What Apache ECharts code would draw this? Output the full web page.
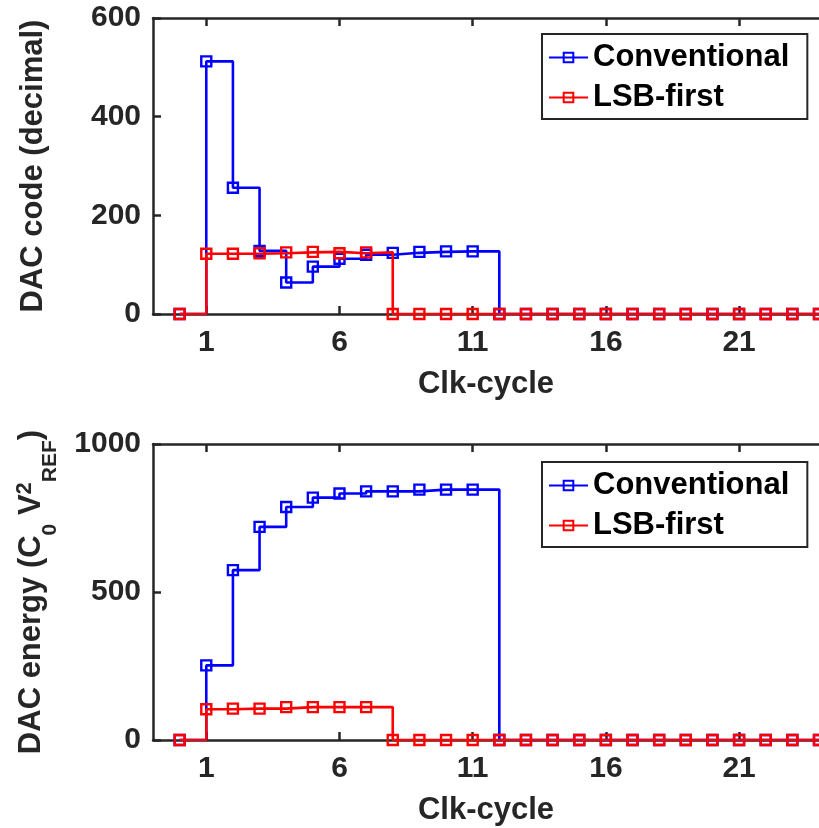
<!DOCTYPE html>
<html>
<head>
<meta charset="utf-8">
<script src="https://cdn.jsdelivr.net/npm/echarts@6.0.0/dist/echarts.min.js"></script>
<style>
  html, body { margin: 0; padding: 0; background: #fff; }
  #chart { width: 819px; height: 828px; }
</style>
</head>
<body>
<div id="chart"></div>
<script>
// cycle index of each sample
const cycles = [0, 1, 2, 3, 4, 5, 6, 7, 8, 9, 10, 11, 12, 13, 14, 15, 16, 17, 18, 19, 20, 21, 22, 23, 24];

// top plot : DAC code (decimal)
const codeConventional = [0, 512, 256, 128, 64, 96, 112, 120, 124, 126, 127, 127, 0, 0, 0, 0, 0, 0, 0, 0, 0, 0, 0, 0, 0];
const codeLsbFirst     = [0, 122, 122, 123, 125, 126, 123, 125, 0, 0, 0, 0, 0, 0, 0, 0, 0, 0, 0, 0, 0, 0, 0, 0, 0];

// bottom plot : DAC energy (C0 Vref^2)
const energyConventional = [0, 252, 574, 720, 787, 819, 833, 840, 840, 846, 846, 846, 0, 0, 0, 0, 0, 0, 0, 0, 0, 0, 0, 0, 0];
const energyLsbFirst     = [0, 104, 106, 106, 111, 111, 111, 111, 0, 0, 0, 0, 0, 0, 0, 0, 0, 0, 0, 0, 0, 0, 0, 0, 0];

const xTickValues = [1, 6, 11, 16, 21];
const seriesNames = ['Conventional', 'LSB-first'];

const FONT = '"Liberation Sans", Arial, Helvetica, sans-serif';
const AXIS_COLOR = '#262626';
const BLUE = '#0000ff';
const RED = '#ff0000';

const pairs = (xs, ys) => xs.map((x, i) => [x, ys[i]]);

// axe x du bas (avec libellés) et axe x du haut (cadre seulement)
function bottomX(gridIndex) {
    return {
        gridIndex: gridIndex, type: 'value', position: 'bottom', min: -1, max: 24,
        name: 'Clk-cycle', nameLocation: 'middle', nameGap: 53,
        nameTextStyle: { fontFamily: FONT, fontSize: 31, fontWeight: 'bold', color: AXIS_COLOR, lineHeight: 34 },
        axisLine: { onZero: false, lineStyle: { color: AXIS_COLOR, width: 2.5 } },
        axisTick: { inside: true, length: 8, customValues: xTickValues, lineStyle: { color: AXIS_COLOR, width: 2.5 } },
        axisLabel: { customValues: xTickValues, margin: 14, fontFamily: FONT, fontSize: 30, fontWeight: 'bold', color: AXIS_COLOR, lineHeight: 30 },
        splitLine: { show: false }
    };
}
function topX(gridIndex) {
    return {
        gridIndex: gridIndex, type: 'value', position: 'top', min: -1, max: 24,
        axisLine: { onZero: false, lineStyle: { color: AXIS_COLOR, width: 2.5 } },
        axisTick: { inside: true, length: 8, customValues: xTickValues, lineStyle: { color: AXIS_COLOR, width: 2.5 } },
        axisLabel: { show: false, customValues: xTickValues },
        splitLine: { show: false }
    };
}
function leftY(gridIndex, max, interval, name, nameStyle, nameGap) {
    return {
        gridIndex: gridIndex, type: 'value', min: 0, max: max, interval: interval,
        name: name, nameLocation: 'middle', nameGap: nameGap,
        nameTextStyle: nameStyle,
        axisLine: { show: true, onZero: false, lineStyle: { color: AXIS_COLOR, width: 2.5 } },
        axisTick: { show: true, inside: true, length: 8, lineStyle: { color: AXIS_COLOR, width: 2.5 } },
        axisLabel: { margin: 12, fontFamily: FONT, fontSize: 30, fontWeight: 'bold', color: AXIS_COLOR, formatter: v => String(v) },
        splitLine: { show: false }
    };
}
function stairs(name, color, xIdx, yIdx, values) {
    return {
        name: name, type: 'line', step: 'end',
        xAxisIndex: xIdx, yAxisIndex: yIdx,
        data: pairs(cycles, values),
        symbol: 'rect', symbolSize: 10, showAllSymbol: true,
        lineStyle: { color: color, width: 2.6 },
        itemStyle: { color: 'rgba(255,255,255,0)', borderColor: color, borderWidth: 2.4 },
        emphasis: { disabled: true },
        z: name === 'LSB-first' ? 3 : 2
    };
}
function legendAt(top) {
    return {
        data: seriesNames, orient: 'vertical', left: 542, top: top,
        padding: [8, 18, 6, 6], itemGap: 9, itemWidth: 39, itemHeight: 12,
        borderColor: AXIS_COLOR, borderWidth: 2, backgroundColor: '#fff',
        textStyle: { fontFamily: FONT, fontSize: 31, fontWeight: 'bold', color: '#000', lineHeight: 30 },
        selectedMode: false
    };
}

// titre de l'axe y du bas : C0 et VREF en indices, 2 en exposant
const titleFont = { fontFamily: FONT, fontWeight: 'bold', color: AXIS_COLOR };
const energyTitleStyle = Object.assign({ fontSize: 31, lineHeight: 60 }, titleFont, {
    rich: {
        m:  Object.assign({ fontSize: 31, lineHeight: 60 }, titleFont),
        lo: Object.assign({ fontSize: 21, verticalAlign: 'middle', padding: [39, 0, 0, 0] }, titleFont),
        hi: Object.assign({ fontSize: 22, verticalAlign: 'middle', padding: [0, 0, 12, 0] }, titleFont)
    }
});
const codeTitleStyle = Object.assign({ fontSize: 31, lineHeight: 44 }, titleFont);

const chart = echarts.init(document.getElementById('chart'), null, { renderer: 'canvas' });
chart.setOption({
    animation: false,
    backgroundColor: '#fff',
    grid: [
        { left: 153, top: 18, right: 0, height: 296, outerBoundsMode: 'none' },
        { left: 153, top: 444, right: 0, height: 296, outerBoundsMode: 'none' }
    ],
    xAxis: [bottomX(0), topX(0), bottomX(1), topX(1)],
    yAxis: [
        leftY(0, 600, 200, 'DAC code (decimal)', codeTitleStyle, 98),
        leftY(1, 1000, 500, '{m|DAC energy (C}{lo|0}{m| V}{hi|2}{lo|REF}{m|)}', energyTitleStyle, 92)
    ],
    legend: [legendAt(34), legendAt(462)],
    series: [
        stairs('Conventional', BLUE, 0, 0, codeConventional),
        stairs('LSB-first', RED, 0, 0, codeLsbFirst),
        stairs('Conventional', BLUE, 2, 1, energyConventional),
        stairs('LSB-first', RED, 2, 1, energyLsbFirst)
    ]
});
</script>
</body>
</html>
